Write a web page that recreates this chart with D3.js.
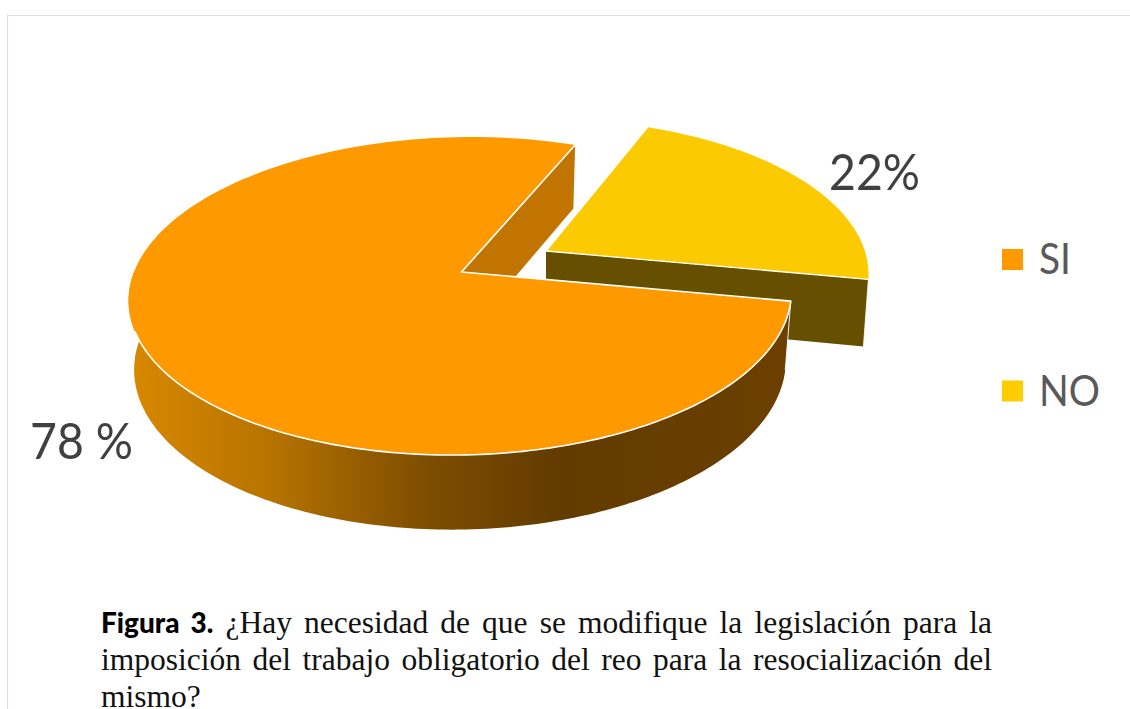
<!DOCTYPE html>
<html><head><meta charset="utf-8">
<script src="https://cdn.jsdelivr.net/npm/d3@7"></script>
<style>
html,body{margin:0;padding:0;background:#fff;width:1130px;height:709px;overflow:hidden}
svg{position:absolute;left:0;top:0}
.cap{position:absolute;left:101px;width:891px;font-family:"Liberation Serif",serif;font-size:31.5px;color:#111;white-space:nowrap;text-align:justify;text-align-last:justify;line-height:24px}
.cap.last{text-align-last:left}
.cap b{font-family:Lato,sans-serif;font-weight:900;font-size:28px;color:#000}
</style></head><body>
<svg id="c" width="1130" height="709"></svg>
<div class="cap" style="top:610px"><b>Figura 3.</b> ¿Hay necesidad de que se modifique la legislación para la</div>
<div class="cap" style="top:648px">imposición del trabajo obligatorio del reo para la resocialización del</div>
<div class="cap last" style="top:685px">mismo?</div>
<script>
const categories = ["SI","NO"];
const values = [78,22];
const dataLabels = ["78 %","22%"];
const colors = ["#ff9900","#fbca00"];

const svg = d3.select("#c");
svg.append("path").attr("d","M7.5 709V15.5H1130").attr("fill","none").attr("stroke","#dfdfdf").attr("stroke-width",1.2);

const TAU = 2*Math.PI;
const start = 100.5/360*TAU;
const arcs = d3.pie().sort(null).startAngle(start).endAngle(start+TAU)(values);
const B = 0.151;
// projective view of the tilted disc
function proj(o,a,r,plane){
  const u=r*Math.sin(a), v=-r*Math.cos(a), w=1-B*v;
  return [o[0]+plane.R*u/w+plane.S*v, o[1]+plane.A*v/w];
}
const top1={R:327.5,A:155.4,S:-10}, bot1={R:322,A:161,S:-10};
const O=[461.5,272], Ob=[461.5,340];
const ox=84.5, oy=-21, k=0.975;
const top2={R:327*k,A:155.4*k,S:0}, bot2={R:322*k,A:161*k,S:0};
const P=[O[0]+ox,O[1]+oy], Pb=[P[0],P[1]+66];
const line=d3.line();
const samp=(s,e,n=160)=>d3.range(n+1).map(i=>s+(e-s)*i/n);
const arcPts=(o,a0,a1,pl)=>samp(a0,a1).map(a=>proj(o,a,1,pl));

const defs=svg.append("defs");
const g=defs.append("linearGradient").attr("id","wall").attr("gradientUnits","userSpaceOnUse")
  .attr("x1",130).attr("x2",790).attr("y1",0).attr("y2",0);
[[0,"#d88800"],[0.2,"#b97500"],[0.45,"#7e4d00"],[0.65,"#633b00"],[1,"#6b4000"]]
  .forEach(d=>g.append("stop").attr("offset",d[0]).attr("stop-color",d[1]));

const si=arcs[0], no=arcs[1];
const noEnd=no.endAngle-TAU, noStart=no.startAngle-TAU;
// exploded slice wall
svg.append("path").attr("fill","#665000")
  .attr("d",line([P,proj(P,noEnd,1,top2),proj(Pb,noEnd,1,bot2),Pb])+"Z");
// orange inner wall
svg.append("path").attr("fill","#c17500")
  .attr("d",line([O,proj(O,si.endAngle,1,top1),proj(Ob,si.endAngle,1,bot1),Ob])+"Z");
// orange outer wall, front half only
const wa0=si.startAngle, wa1=Math.PI*1.5;
const tp=arcPts(O,wa0,wa1,top1), bp=arcPts(Ob,wa0,wa1,bot1).reverse();
svg.append("path").attr("fill","url(#wall)").attr("d",line([...tp,...bp])+"Z");
svg.append("path").attr("fill","none").attr("stroke","#fff").attr("stroke-width",0.9)
  .attr("d",line([tp[0],bp[bp.length-1]]));
// tops
const wedge=(o,a0,a1,pl)=>line([o,...arcPts(o,a0,a1,pl)])+"Z";
svg.append("path").attr("fill",colors[0]).attr("d",wedge(O,si.startAngle,si.endAngle,top1));
svg.append("path").attr("fill","none").attr("stroke","#fff").attr("stroke-width",1.6).attr("stroke-linejoin","round")
  .attr("d",line([proj(O,si.endAngle,1,top1),O,...tp.slice(0,-20)]));
svg.append("path").attr("fill",colors[1]).attr("d",wedge(P,noStart,noEnd,top2));
svg.append("path").attr("fill","none").attr("stroke","#fff").attr("stroke-width",1.3).attr("stroke-linejoin","round")
  .attr("d",line([proj(P,noStart,1,top2),P,proj(P,noEnd,1,top2)]));
svg.append("path").attr("fill","none").attr("stroke","#fff").attr("stroke-width",0.8)
  .attr("d",line([proj(P,noEnd,1,top2),proj(Pb,noEnd,1,bot2)]));

// labels
const lab=svg.append("g").attr("font-family","Lato, sans-serif").attr("fill","#404040").attr("font-size",50);
lab.append("text").attr("x",30).attr("y",459).attr("textLength",103).attr("lengthAdjust","spacingAndGlyphs").text(dataLabels[0]);
lab.append("text").attr("x",829).attr("y",190).attr("textLength",91).attr("lengthAdjust","spacingAndGlyphs").text(dataLabels[1]);

// legend
const ly=d3.scalePoint().domain(categories).range([259.5,391]);
const legendW=[32,61];
const legendColors=["#ff9900","#ffcc00"];
const leg=svg.append("g").selectAll("g").data(categories).join("g");
leg.append("rect").attr("x",1002).attr("y",d=>ly(d)-10.5).attr("width",21).attr("height",21).attr("fill",(d,i)=>legendColors[i]);
leg.append("text").attr("x",1039).attr("y",d=>ly(d)+14.5).attr("font-family","Lato, sans-serif").attr("font-size",42).attr("fill","#595959")
  .attr("textLength",(d,i)=>legendW[i]).attr("lengthAdjust","spacingAndGlyphs").text(d=>d);
</script>
</body></html>
